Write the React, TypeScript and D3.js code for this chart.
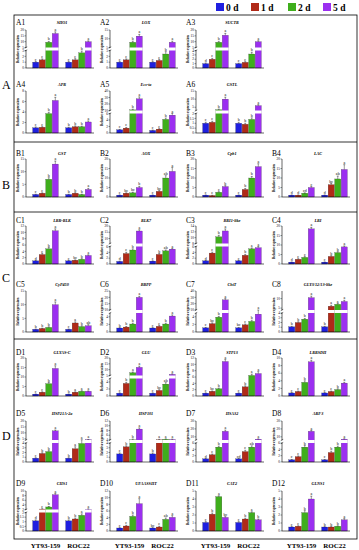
import React from "react";
import * as d3 from "d3";

const days = ["0 d", "1 d", "2 d", "5 d"];
const dayColors = ["#1f1fe0", "#b02a18", "#3fae1c", "#9b2ff0"];
const cultivars = ["YT93-159", "ROC22"];
const sections = ["A", "B", "C", "D"];

const panelIds = ["A1","A2","A3","A4","A5","A6","B1","B2","B3","B4","C1","C2","C3","C4","C5","C6","C7","C8","D1","D2","D3","D4","D5","D6","D7","D8","D9","D10","D11","D12"];
const genes = ["SHO1","LOX","SUCTR","APR","Ecs-ta","GSTL","GST","AOX","Cpb1","LAC","LRR-RLK","RLK7","BRI1-like","LRI","CyP450","BBPP","ChiT","GLY3/12/13-like","GLYAS-C","GLU","STP13","LRRSDH","HSP21A-2a","HSP101","HSA32","ARF3","CHS1","UFAASSHT","CAT2","GLNS1"];

const lowDomain: number[][] = [[0,3],[0,3],[0,4],[0,8],[0,6],[0,2],[0,15],[0,20],[0,20],[0,20],[0,12],[0,6],[0,6],[0,20],[0,15],[0,5],[0,5],[0,4],[0,20],[0,5],[0,12],[0,10],[0,4],[0,4],[0,6],[0,6],[0,2],[0,12],[0,5],[0,5]];
const highDomain: (number[] | null)[] = [[5,20],[5,15],[5,20],null,[10,40],[3,15],null,null,null,null,null,[6,20],[8,14],null,null,[10,25],[10,40],[4,14],null,[5,20],null,null,[4,20],[4,12],[6,30],[6,30],[2,10],null,null,null];

const ytValues: number[][] = [[1,1.4,9.5,17],[1,1.4,8,11.5],[1,2,9.5,15.5],[1,1.1,3.7,6.2],[1,1.5,11,28],[1,1.1,3.5,10],[1,1.5,7,13],[1,2,2.2,5],[1,0.8,2.5,5.5],[1,1,2,5],[1,3,4.8,10.5],[0.9,3.6,4.8,16],[1.1,3.75,10.3,12.3],[1,2.5,3.5,18.5],[1,1.3,1.7,10],[1.05,1.3,2.1,20],[1.1,2.2,3.9,26],[1.1,2,2.7,10.5],[1,2,6.5,14.5],[0.8,3.6,7.4,12],[0.9,1.5,2.3,10.9],[0.8,1.2,3.6,9],[0.8,1.8,2.2,11.7],[1.7,3.2,4.1,8.6],[1,2.3,4.7,17],[0.7,1.7,4.7,17],[1.1,2.2,3.1,8.4],[0.9,1.5,4.4,8.2],[1.07,2.1,4.3,1.7],[0.5,0.6,2.3,4.0]];
const ytErr: number[][] = [[0.1,0.15,0.7,1.4],[0.1,0.15,0.6,1],[0.15,0.2,0.8,1.6],[0.15,0.1,0.25,0.6],[0.1,0.2,1,3],[0.1,0.1,0.4,1.2],[0.1,0.15,0.6,1.2],[0.1,0.2,0.3,0.6],[0.1,0.1,0.3,0.5],[0.1,0.1,0.2,0.5],[0.1,0.3,0.4,0.6],[0.1,0.4,0.4,1],[0.1,0.3,0.5,0.7],[0.1,0.3,0.4,0.8],[0.1,0.1,0.2,1],[0.1,0.15,0.2,0.8],[0.1,0.2,0.2,2],[0.1,0.15,0.15,0.8],[0.1,0.2,0.6,1.4],[0.1,0.3,0.6,1],[0.1,0.1,0.2,0.6],[0.1,0.1,0.4,0.4],[0.1,0.15,0.2,0.7],[0.2,0.2,0.3,0.5],[0.1,0.2,0.3,1.5],[0.1,0.2,0.5,1],[0.1,0.15,0.2,0.5],[0.1,0.2,0.4,1.5],[0.1,0.15,0.1,0.1],[0.05,0.05,0.25,0.35]];
const rocValues: number[][] = [[1,1.4,2.6,10],[1,1.3,2.4,8],[1,1.3,3.2,10],[1,1.2,1.2,2.1],[0.8,1.2,4.2,5.5],[1,0.9,1.4,6],[1,1.5,1,3],[1,3,10,13.5],[1,4,10,16],[1,6.5,9.5,14.5],[1,1.2,1.5,2.7],[1,3.3,4.5,5.1],[1.1,3,5.2,5.6],[1,4,6,9],[1,3.3,2,2.3],[1.05,1.5,2.1,4.2],[1.1,1.9,2.8,4.7],[1.1,6,7,8.5],[1,2,2.5,2.5],[0.8,1.6,3.4,6],[0.9,2.9,6.5,7.1],[0.8,1.2,1.7,3.4],[0.8,2.8,3.9,4.3],[1.7,4.1,4.3,4.2],[1,3.3,4.7,7],[0.7,3,4.7,7],[1.1,1.3,1.7,2.1],[0.9,1.2,3.5,4.1],[1.07,1.5,2.3,1.4],[0.5,0.5,0.6,1.4]];
const rocErr: number[][] = [[0.1,0.2,0.3,0.7],[0.1,0.15,0.4,0.6],[0.1,0.15,0.4,0.8],[0.1,0.15,0.1,0.2],[0.1,0.15,0.4,0.5],[0.1,0.1,0.15,0.6],[0.1,0.2,0.1,0.4],[0.1,0.4,1.2,2],[0.1,0.5,0.8,1.5],[0.1,0.6,1.5,2.5],[0.1,0.1,0.2,0.2],[0.1,0.3,0.3,0.2],[0.1,0.3,0.3,0.4],[0.1,0.4,0.5,0.5],[0.1,0.4,0.3,0.4],[0.1,0.2,0.2,0.3],[0.1,0.2,0.3,0.4],[0.1,0.5,0.4,0.6],[0.1,0.2,0.3,0.2],[0.1,0.2,0.4,0.5],[0.1,0.3,0.4,0.6],[0.1,0.1,0.2,0.2],[0.1,0.4,0.3,0.2],[0.2,0.2,0.2,0.2],[0.1,0.4,0.4,0.5],[0.1,0.4,0.3,0.6],[0.1,0.1,0.15,0.2],[0.1,0.2,0.4,0.5],[0.1,0.1,0.1,0.1],[0.05,0.05,0.05,0.15]];
const ytLetters = ["c c b a","c c b a","d c b a","c c b a","c c b a","c c b a","c c b a","c bc bc b","c c c b","d d cd c","d c b a","d c b a","d c b a","d c c a","b b b a","b b b a","c bc b a","b b b a","c c b a","c b a a","c bc b a","c c b a","c b b a","c b b a","d c b a","c c b a","d c b a","c c b a","c b a bc","c c b a"];
const rocLetters = ["c c b a","c c b a","c c b a","b b b a","c c b a","b b b a","b b b a","c bc ab a","c b b a","d bc ab a","c bc b a","c b ab a","c b a a","c b b a","c a b ab","c c b a","bc c b a","b a a a","b a a a","c bc ab a","c b a a","c c b a","b a a a","b a a a","cd c ab a","c b b a","b b a a","bc c ab a","c b a b","b b b a"];

// layout
const panelRow = [0,0,0,1,1,1,2,2,2,2,3,3,3,3,4,4,4,4,5,5,5,5,6,6,6,6,7,7,7,7];
const panelCol = [0,1,2,0,1,2,0,1,2,3,0,1,2,3,0,1,2,3,0,1,2,3,0,1,2,3,0,1,2,3];
const colLabelX = [16, 100, 186, 272];
const rowLabelY = [25, 87, 156, 223, 287, 355, 416, 486];
const rowTop = [30, 91, 159, 226, 291, 358, 421, 491];
const rowBase = [68, 133, 197, 264, 332, 396, 462, 531];
const sectionY = [89, 189, 282, 440];
const separatorsY = [142, 212, 339];

const serif = "'Liberation Serif', 'DejaVu Serif', serif";

function Panel({ i }: { i: number }) {
  const row = panelRow[i], col = panelCol[i];
  const lx = colLabelX[col];
  const ax = lx + 10;
  const top = rowTop[row], base = rowBase[row];
  const lo = lowDomain[i], hi = highDomain[i];
  const gap = 3;
  const H = base - top;
  let sLo: d3.ScaleLinear<number, number>;
  let sHi: d3.ScaleLinear<number, number> | null = null;
  let lowH = H;
  if (hi) {
    lowH = (H - gap) * 0.5;
    sLo = d3.scaleLinear().domain(lo).range([base, base - lowH]);
    sHi = d3.scaleLinear().domain(hi).range([base - lowH - gap, top]);
  } else {
    sLo = d3.scaleLinear().domain(lo).range([base, top]);
  }
  const y = (v: number) => (!hi || v <= lo[1] ? sLo(v) : (sHi as any)(Math.max(v, hi[0])));
  const xg = d3.scaleBand().domain(cultivars).range([ax + 5, ax + 67]).paddingInner(0.22).paddingOuter(0.05);
  const xd = d3.scaleBand().domain(days).range([0, xg.bandwidth()]).paddingInner(0.06);
  const groups = [
    { c: cultivars[0], v: ytValues[i], e: ytErr[i], l: ytLetters[i].split(" ") },
    { c: cultivars[1], v: rocValues[i], e: rocErr[i], l: rocLetters[i].split(" ") },
  ];
  const loTicks = d3.ticks(lo[0], lo[1], hi ? 3 : 4);
  const hiTicks = hi ? d3.ticks(hi[0], hi[1], 3) : [];
  const breakLow = base - lowH;
  const breakHigh = base - lowH - gap;
  return (
    <g>
      <text x={lx} y={rowLabelY[row]} fontSize={7.5} fontFamily={serif}>{panelIds[i]}</text>
      <text x={ax + 36} y={rowLabelY[row] - 1} fontSize={4.2} fontStyle="italic" fontWeight="bold" textAnchor="middle" fontFamily={serif}>{genes[i]}</text>
      <text transform={`translate(${ax - 7.5},${(top + base) / 2}) rotate(-90)`} fontSize={3.4} fontWeight="bold" textAnchor="middle" fontFamily={serif}>Relative expression</text>
      {hi ? (
        <g stroke="#000" strokeWidth={0.6}>
          <line x1={ax} x2={ax} y1={base} y2={breakLow} />
          <line x1={ax} x2={ax} y1={breakHigh} y2={top} />
          <line x1={ax - 1.2} x2={ax + 1.2} y1={breakLow + 0.6} y2={breakLow - 0.6} />
          <line x1={ax - 1.2} x2={ax + 1.2} y1={breakHigh + 0.6} y2={breakHigh - 0.6} />
        </g>
      ) : (
        <line x1={ax} x2={ax} y1={base} y2={top} stroke="#000" strokeWidth={0.6} />
      )}
      {loTicks.map((t) => (
        <g key={"l" + t}>
          <line x1={ax - 1.5} x2={ax} y1={sLo(t)} y2={sLo(t)} stroke="#000" strokeWidth={0.4} />
          <text x={ax - 2} y={sLo(t) + 1.2} fontSize={3.4} textAnchor="end" fontFamily={serif}>{t}</text>
        </g>
      ))}
      {sHi && hiTicks.map((t) => (
        <g key={"h" + t}>
          <line x1={ax - 1.5} x2={ax} y1={(sHi as any)(t)} y2={(sHi as any)(t)} stroke="#000" strokeWidth={0.4} />
          <text x={ax - 2} y={(sHi as any)(t) + 1.2} fontSize={3.4} textAnchor="end" fontFamily={serif}>{t}</text>
        </g>
      ))}
      {groups.map((g) => (
        <g key={g.c} transform={`translate(${xg(g.c)},0)`}>
          {g.v.map((v, k) => {
            const x = xd(days[k]) as number;
            const w = xd.bandwidth();
            const yt = y(v);
            const ye = y(v + g.e[k]);
            const cx = x + w / 2;
            return (
              <g key={k}>
                <rect x={x} y={yt} width={w} height={base - yt} fill={dayColors[k]} stroke="#222" strokeWidth={0.2} />
                {hi && v > lo[1] && (
                  <rect x={x - 0.3} y={breakHigh} width={w + 0.6} height={gap} fill="#fff" />
                )}
                <line x1={cx} x2={cx} y1={yt} y2={ye} stroke="#000" strokeWidth={0.4} />
                <line x1={cx - 1} x2={cx + 1} y1={ye} y2={ye} stroke="#000" strokeWidth={0.4} />
                <text x={cx} y={ye - 1} fontSize={4} textAnchor="middle" fontFamily={serif}>{g.l[k]}</text>
              </g>
            );
          })}
        </g>
      ))}
      <line x1={ax} x2={ax + 68} y1={base} y2={base} stroke="#000" strokeWidth={0.6} />
    </g>
  );
}

export default function App() {
  const xgBottom = d3.scaleBand().domain(cultivars).range([5, 67]).paddingInner(0.22).paddingOuter(0.05);
  const legendX = [216, 251, 288, 323];
  return (
    <svg width={359} height={550} style={{ position: "absolute", left: 0, top: 0, background: "#fff" }}>
      <rect x={0} y={0} width={359} height={550} fill="#fff" />
      {days.map((d, k) => (
        <g key={d}>
          <rect x={legendX[k]} y={3} width={8} height={8} fill={dayColors[k]} />
          <text x={legendX[k] + 10} y={10.5} fontSize={9.5} fontWeight="bold" fontFamily={serif}>{d}</text>
        </g>
      ))}
      <rect x={14} y={15} width={343} height={524} fill="none" stroke="#000" strokeWidth={0.8} />
      {separatorsY.map((yy) => (
        <line key={yy} x1={14} x2={357} y1={yy} y2={yy} stroke="#000" strokeWidth={0.8} />
      ))}
      {sections.map((s, k) => (
        <text key={s} x={2} y={sectionY[k]} fontSize={12} fontFamily={serif}>{s}</text>
      ))}
      {panelIds.map((_, i) => (
        <Panel key={i} i={i} />
      ))}
      {colLabelX.map((lx, c) => (
        <g key={c}>
          {cultivars.map((cv) => (
            <text key={cv} x={lx + 10 + (xgBottom(cv) as number) + xgBottom.bandwidth() / 2} y={548} fontSize={7} fontWeight="bold" textAnchor="middle" fontFamily={serif}>{cv}</text>
          ))}
        </g>
      ))}
    </svg>
  );
}
